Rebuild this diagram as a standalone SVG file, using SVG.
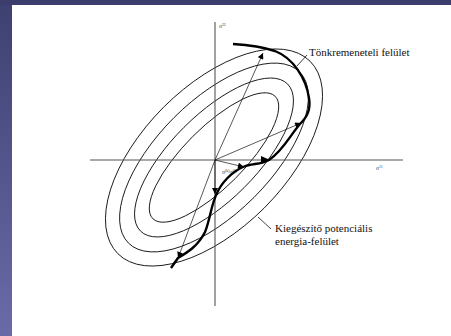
<svg xmlns="http://www.w3.org/2000/svg" width="451" height="336" viewBox="0 0 451 336">
<defs>
<linearGradient id="side" x1="0" y1="0" x2="0" y2="1">
<stop offset="0" stop-color="#3e4070"/>
<stop offset="1" stop-color="#6a6aa8"/>
</linearGradient>
<marker id="ah" viewBox="0 0 10 10" refX="10" refY="5" markerWidth="8" markerHeight="6" markerUnits="userSpaceOnUse" orient="auto">
<path d="M0,0 L10,5 L0,10 Z" fill="#000"/>
</marker>
<style>
.ell{fill:none;stroke:#111;stroke-width:0.9}
.axis{stroke:#555;stroke-width:1.1;fill:none}
.thin{stroke:#111;stroke-width:0.7;fill:none}
.thick{stroke:#000;stroke-width:2.4;fill:none;stroke-linecap:butt}
.lbl{font-family:"Liberation Serif","Times New Roman",serif;font-size:11px;fill:#111}
.sm{font-family:"Liberation Serif","Times New Roman",serif;font-size:5.5px;fill:#333}
</style>
</defs>
<rect x="0" y="0" width="451" height="336" fill="#fff"/>
<rect x="0" y="0" width="12" height="336" fill="url(#side)"/>
<rect x="0" y="0" width="451" height="5" fill="#3c3d6c"/>
<g id="ellipses">
<ellipse class="ell" cx="214" cy="157.5" rx="136" ry="71.2" transform="rotate(-45 214 157.5)"/>
<ellipse class="ell" cx="214" cy="157.5" rx="121" ry="56.5" transform="rotate(-45 214 157.5)"/>
<ellipse class="ell" cx="214" cy="157.5" rx="104" ry="42.6" transform="rotate(-45 214 157.5)"/>
<ellipse class="ell" cx="214" cy="157.5" rx="86.5" ry="29.9" transform="rotate(-45 214 157.5)"/>
</g>
<g id="axes">
<line class="axis" x1="215" y1="22" x2="215" y2="306"/>
<line class="axis" x1="90" y1="160" x2="403" y2="160"/>
<text class="sm" x="219" y="28">σ<tspan font-size="3.8" dy="-1.6">22</tspan></text>
<text class="sm" x="376" y="170">σ<tspan font-size="3.8" dy="-1.6">11</tspan></text>
<text class="sm" x="222" y="174">σ<tspan font-size="3.8" dy="-1.6">(k)</tspan><tspan dy="1.6">σ</tspan><tspan font-size="3.8" dy="-1.6">(0)</tspan></text>
</g>
<g id="connectors">
<line class="thin" x1="215" y1="160" x2="263" y2="53" marker-end="url(#ah)"/>
<line class="thin" x1="215" y1="160" x2="178" y2="258" marker-end="url(#ah)"/>
<line class="thin" x1="215" y1="160" x2="301" y2="123" marker-end="url(#ah)"/>
<line class="thin" x1="215" y1="160" x2="244" y2="167" marker-end="url(#ah)"/>
<line class="thin" x1="215" y1="160" x2="215" y2="194" marker-end="url(#ah)"/>
<path d="M261,156 L270,160 L261,164 Z" fill="#000"/>
</g>
<g id="path-curve">
<path class="thick" d="M233,44 C250,45 263,47 275,51 C293,58 306,78 309,98 C311,110 307,117 300,124 C291,134 283,151 269,160 C260,165 252,163 243,167 C232,172 222,182 217,193 C211,205 210,220 205,232 C198,246 188,252 178,258 L171,268"/>
</g>
<g id="label-failure">
<line class="thin" x1="297" y1="66" x2="307" y2="55" style="stroke-width:0.8"/>
<text class="lbl" x="309" y="55.5">Tönkremeneteli felület</text>
</g>
<g id="label-energy">
<line class="thin" x1="258" y1="217" x2="271" y2="229" style="stroke-width:0.8"/>
<text class="lbl" x="275" y="232">Kiegészítő potenciális</text>
<text class="lbl" x="275" y="245">energia-felület</text>
</g>
</svg>
